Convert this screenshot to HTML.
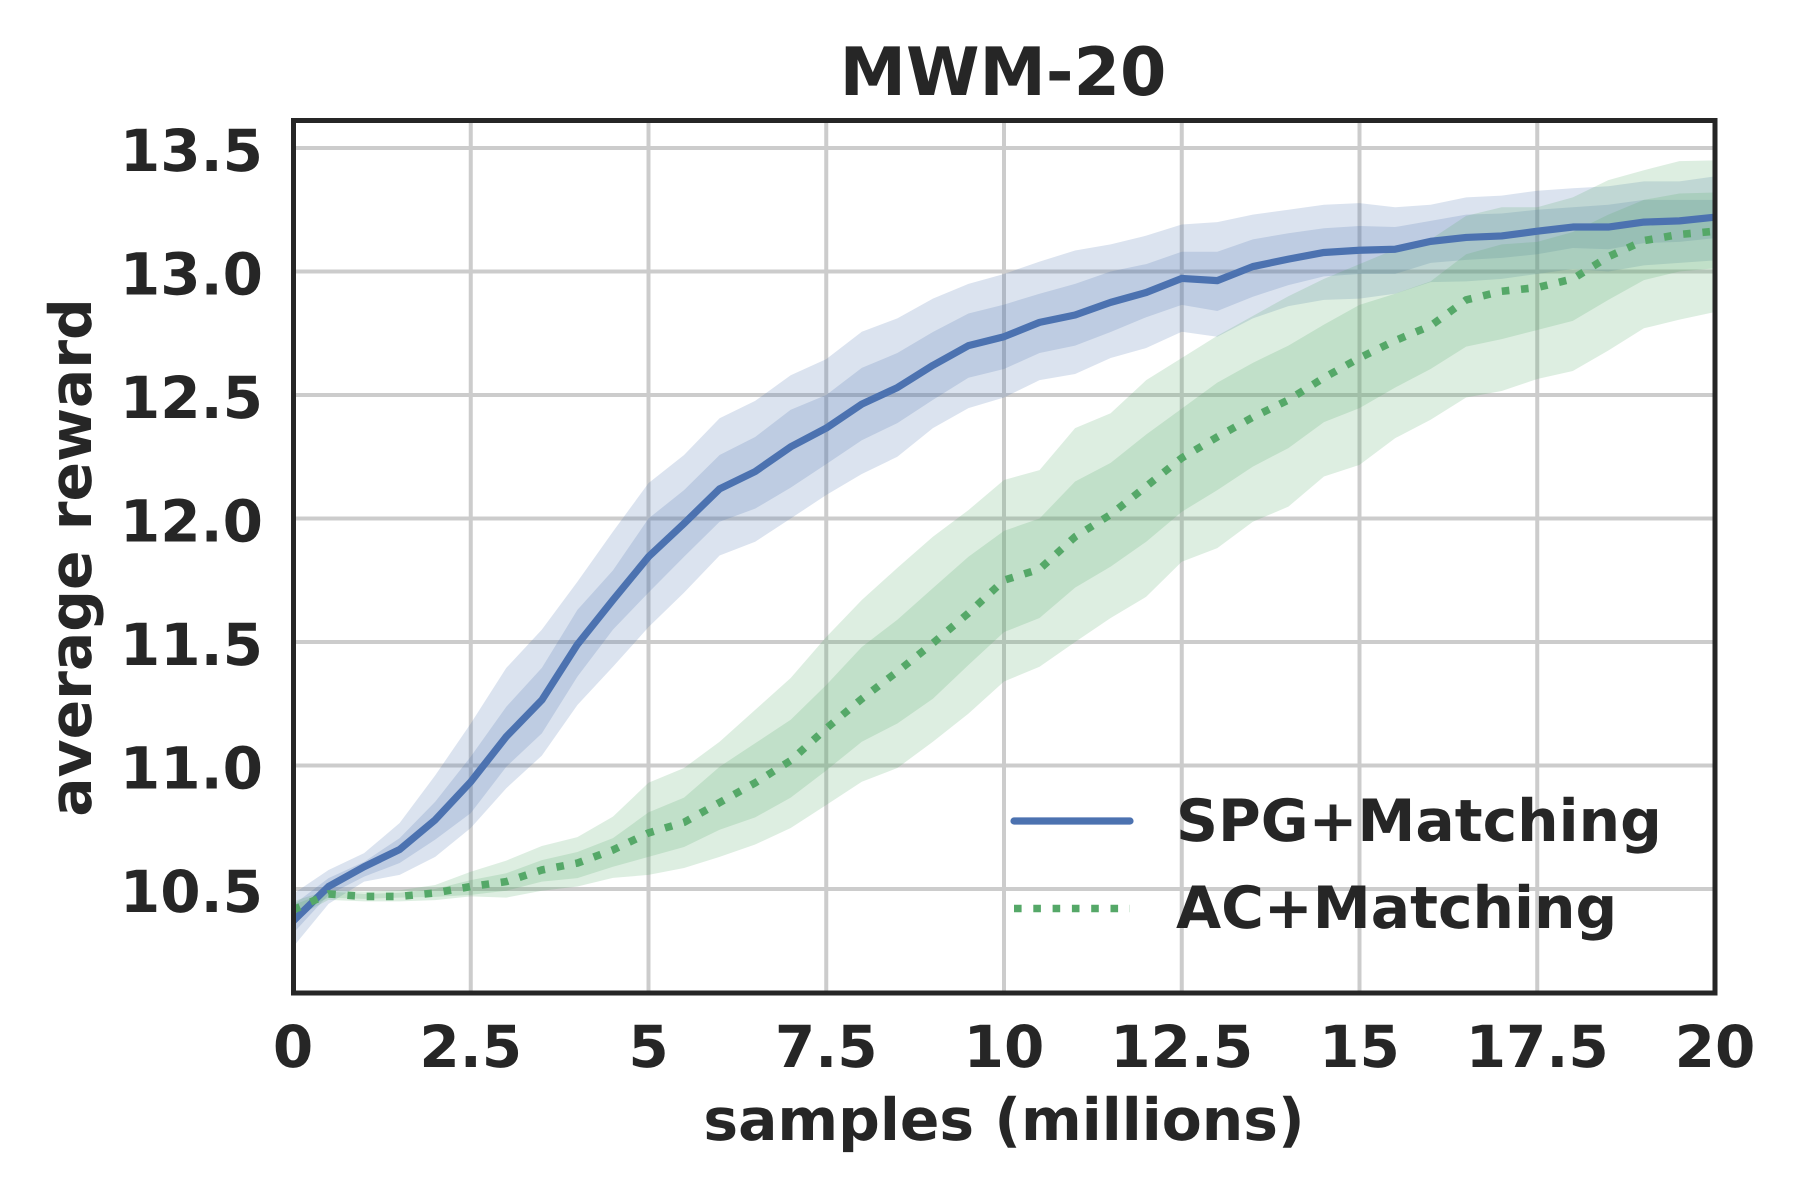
<!DOCTYPE html>
<html lang="en">
<head>
<meta charset="utf-8">
<title>MWM-20</title>
<style>
  html, body { margin: 0; padding: 0; background: #ffffff; }
  svg { display: block; }
  text { font-family: "DejaVu Sans", "Liberation Sans", sans-serif; font-weight: 700; fill: #262626; text-rendering: geometricPrecision; }
</style>
</head>
<body>
<svg id="chart" xmlns="http://www.w3.org/2000/svg" width="1800" height="1200" viewBox="0 0 1800 1200">
  <defs>
    <clipPath id="plot-clip"><rect x="293.5" y="120.5" width="1421.5" height="872.5"></rect></clipPath>
  </defs>
  <rect x="0" y="0" width="1800" height="1200" fill="#ffffff"></rect>
  <g id="grid"></g>
  <g id="bands" clip-path="url(#plot-clip)"></g>
  <g id="lines" clip-path="url(#plot-clip)"></g>
  <g id="legend">
    <g>
      <line x1="1014" y1="821" x2="1130" y2="821" stroke="#4c72b0" stroke-width="7.2" stroke-linecap="round"></line>
      <text x="1176" y="841" font-size="58.3">SPG+Matching</text>
    </g>
    <g>
      <line x1="1014" y1="908.5" x2="1130" y2="908.5" stroke="#55a868" stroke-width="7.6" stroke-dasharray="7.6 11.7"></line>
      <text x="1176" y="928" font-size="58.3">AC+Matching</text>
    </g>
  </g>
  <rect x="293.5" y="120.5" width="1421.5" height="872.5" fill="none" stroke="#262626" stroke-width="5"></rect>
  <g id="x-ticks"></g>
  <g id="y-ticks"></g>
  <text x="1003" y="95" font-size="66.7" text-anchor="middle">MWM-20</text>
  <text x="1004" y="1140" font-size="58.3" text-anchor="middle">samples (millions)</text>
  <text x="91" y="557.5" font-size="58.3" text-anchor="middle" transform="rotate(-90 91 557.5)">average reward</text>
</svg>
<script>
const samples = [0,0.5,1,1.5,2,2.5,3,3.5,4,4.5,5,5.5,6,6.5,7,7.5,8,8.5,9,9.5,10,10.5,11,11.5,12,12.5,13,13.5,14,14.5,15,15.5,16,16.5,17,17.5,18,18.5,19,19.5,20];

const spgMean = [10.37,10.51,10.59,10.66,10.78,10.934,11.117,11.265,11.49,11.67,11.845,11.98,12.12,12.19,12.29,12.366,12.463,12.53,12.62,12.70,12.736,12.794,12.824,12.875,12.915,12.972,12.963,13.02,13.05,13.077,13.086,13.09,13.122,13.138,13.144,13.163,13.18,13.18,13.20,13.205,13.22];
const spgInnerUpper = [10.435,10.544,10.61,10.706,10.853,11.036,11.238,11.395,11.63,11.79,12.0,12.115,12.257,12.33,12.44,12.50,12.61,12.67,12.755,12.83,12.866,12.91,12.95,13.0,13.03,13.08,13.08,13.13,13.155,13.175,13.184,13.18,13.205,13.23,13.235,13.25,13.26,13.27,13.29,13.29,13.29];
const spgInnerLower = [10.32,10.476,10.55,10.605,10.70,10.807,10.995,11.13,11.36,11.55,11.70,11.845,11.987,12.04,12.125,12.22,12.317,12.386,12.48,12.57,12.605,12.67,12.70,12.755,12.815,12.865,12.84,12.898,12.945,12.98,12.99,12.99,13.035,13.047,13.055,13.07,13.095,13.09,13.115,13.12,13.135];
const spgOuterUpper = [10.48,10.577,10.645,10.767,10.96,11.17,11.395,11.55,11.744,11.947,12.143,12.257,12.406,12.476,12.58,12.645,12.756,12.81,12.89,12.95,12.99,13.04,13.085,13.11,13.145,13.19,13.20,13.23,13.25,13.27,13.277,13.26,13.27,13.30,13.307,13.327,13.337,13.345,13.365,13.365,13.385];
const spgOuterLower = [10.265,10.44,10.53,10.557,10.63,10.747,10.908,11.04,11.245,11.40,11.56,11.70,11.85,11.906,12.0,12.095,12.18,12.25,12.366,12.447,12.49,12.56,12.585,12.65,12.69,12.756,12.736,12.81,12.86,12.885,12.89,12.91,12.957,12.96,12.97,12.99,13.01,13.0,13.025,13.035,13.045];

const acMean = [10.415,10.48,10.47,10.47,10.484,10.51,10.53,10.577,10.605,10.658,10.727,10.77,10.85,10.93,11.02,11.15,11.27,11.38,11.495,11.617,11.75,11.795,11.926,12.016,12.13,12.245,12.33,12.41,12.48,12.57,12.65,12.72,12.78,12.885,12.92,12.935,12.97,13.06,13.125,13.15,13.163];
const acInnerUpper = [10.435,10.49,10.48,10.485,10.50,10.536,10.564,10.617,10.65,10.706,10.81,10.87,10.995,11.09,11.185,11.326,11.48,11.59,11.718,11.845,11.95,12.0,12.15,12.225,12.34,12.445,12.55,12.63,12.70,12.785,12.865,12.91,12.96,13.07,13.11,13.12,13.16,13.23,13.29,13.316,13.32];
const acInnerLower = [10.395,10.465,10.46,10.465,10.468,10.476,10.493,10.53,10.544,10.59,10.63,10.67,10.74,10.79,10.87,10.98,11.096,11.17,11.27,11.407,11.54,11.597,11.72,11.805,11.906,12.027,12.115,12.21,12.285,12.39,12.447,12.53,12.605,12.696,12.726,12.763,12.80,12.885,12.965,13.0,13.013];
const acOuterUpper = [10.45,10.496,10.49,10.495,10.516,10.57,10.615,10.674,10.71,10.793,10.93,10.99,11.096,11.225,11.354,11.52,11.67,11.80,11.926,12.034,12.156,12.196,12.366,12.426,12.56,12.65,12.74,12.82,12.90,12.97,13.03,13.09,13.13,13.225,13.26,13.26,13.30,13.37,13.41,13.447,13.45];
const acOuterLower = [10.38,10.456,10.45,10.45,10.455,10.47,10.465,10.493,10.51,10.545,10.557,10.585,10.63,10.68,10.747,10.84,10.934,10.99,11.096,11.21,11.34,11.40,11.50,11.597,11.683,11.825,11.88,11.987,12.048,12.17,12.217,12.325,12.40,12.49,12.516,12.565,12.597,12.68,12.77,12.805,12.836];

const xTickValues = [0,2.5,5,7.5,10,12.5,15,17.5,20];
const xTickLabels = ['0','2.5','5','7.5','10','12.5','15','17.5','20'];
const yTickValues = [10.5,11,11.5,12,12.5,13,13.5];
const yTickLabels = ['10.5','11.0','11.5','12.0','12.5','13.0','13.5'];

const SVG_NS = 'http://www.w3.org/2000/svg';
const PLOT = { left: 293, right: 1715, top: 120.5, bottom: 993 };
const X_MAX = 20;
const Y_MIN = 10.07895;
const Y_MAX = 13.6113;

function xScale(v) {
  return PLOT.left + (v / X_MAX) * (PLOT.right - PLOT.left);
}
function yScale(v) {
  return PLOT.bottom - ((v - Y_MIN) / (Y_MAX - Y_MIN)) * (PLOT.bottom - PLOT.top);
}
function make(tag, parent) {
  const el = document.createElementNS(SVG_NS, tag);
  parent.appendChild(el);
  return el;
}
function linePoints(values) {
  return values.map(function (v, i) {
    return xScale(samples[i]).toFixed(2) + ',' + yScale(v).toFixed(2);
  });
}
function bandPoints(upper, lower) {
  return linePoints(upper).concat(linePoints(lower).reverse()).join(' ');
}

const gridGroup = document.getElementById('grid');
xTickValues.forEach(function (v) {
  const gridLine = make('line', gridGroup);
  
  
  gridLine.setAttribute('x1', xScale(v));
  gridLine.setAttribute('x2', xScale(v));
  gridLine.setAttribute('y1', PLOT.top);
  gridLine.setAttribute('y2', PLOT.bottom);
  gridLine.setAttribute('stroke', '#cccccc');
  gridLine.setAttribute('stroke-width', '4');
});
yTickValues.forEach(function (v) {
  const gridLine = make('line', gridGroup);
  
  
  gridLine.setAttribute('x1', PLOT.left);
  gridLine.setAttribute('x2', PLOT.right);
  gridLine.setAttribute('y1', yScale(v));
  gridLine.setAttribute('y2', yScale(v));
  gridLine.setAttribute('stroke', '#cccccc');
  gridLine.setAttribute('stroke-width', '4');
});

const bandsGroup = document.getElementById('bands');

const spgOuterBand = make('polygon', bandsGroup);


spgOuterBand.setAttribute('points', bandPoints(spgOuterUpper, spgOuterLower));
spgOuterBand.setAttribute('fill', '#4c72b0');
spgOuterBand.setAttribute('fill-opacity', '0.2');

const spgInnerBand = make('polygon', bandsGroup);


spgInnerBand.setAttribute('points', bandPoints(spgInnerUpper, spgInnerLower));
spgInnerBand.setAttribute('fill', '#4c72b0');
spgInnerBand.setAttribute('fill-opacity', '0.2');

const acOuterBand = make('polygon', bandsGroup);


acOuterBand.setAttribute('points', bandPoints(acOuterUpper, acOuterLower));
acOuterBand.setAttribute('fill', '#55a868');
acOuterBand.setAttribute('fill-opacity', '0.2');

const acInnerBand = make('polygon', bandsGroup);


acInnerBand.setAttribute('points', bandPoints(acInnerUpper, acInnerLower));
acInnerBand.setAttribute('fill', '#55a868');
acInnerBand.setAttribute('fill-opacity', '0.2');

const linesGroup = document.getElementById('lines');

const spgLine = make('polyline', linesGroup);


spgLine.setAttribute('points', linePoints(spgMean).join(' '));
spgLine.setAttribute('fill', 'none');
spgLine.setAttribute('stroke', '#4c72b0');
spgLine.setAttribute('stroke-width', '7.2');
spgLine.setAttribute('stroke-linejoin', 'round');

const acLine = make('polyline', linesGroup);


acLine.setAttribute('points', linePoints(acMean).join(' '));
acLine.setAttribute('fill', 'none');
acLine.setAttribute('stroke', '#55a868');
acLine.setAttribute('stroke-width', '7.6');
acLine.setAttribute('stroke-dasharray', '7.6 11.7');

const xTickGroup = document.getElementById('x-ticks');
xTickValues.forEach(function (v, i) {
  const label = make('text', xTickGroup);
  
  
  label.setAttribute('x', xScale(v));
  label.setAttribute('y', 1067);
  label.setAttribute('font-size', '58');
  label.setAttribute('text-anchor', 'middle');
  label.textContent = xTickLabels[i];
});

const yTickGroup = document.getElementById('y-ticks');
yTickValues.forEach(function (v, i) {
  const label = make('text', yTickGroup);
  
  
  label.setAttribute('x', 263);
  label.setAttribute('y', yScale(v) + 22.8);
  label.setAttribute('font-size', '58');
  label.setAttribute('text-anchor', 'end');
  label.textContent = yTickLabels[i];
});
</script>
</body>
</html>
